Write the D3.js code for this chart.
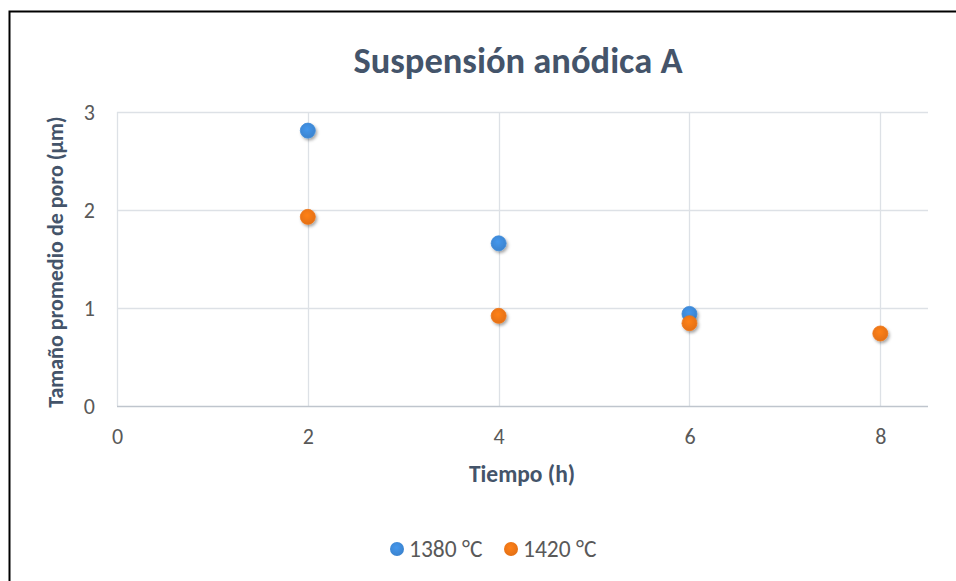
<!DOCTYPE html>
<html>
<head>
<meta charset="utf-8">
<script src="https://cdn.jsdelivr.net/npm/d3@7"></script>
<style>
  html, body { margin: 0; padding: 0; background: #fff; }
  svg { display: block; }
</style>
</head>
<body>
<svg id="chart" width="956" height="581"></svg>
<script>
// Mean pore size versus sintering time, one series per temperature
const xTicks = [0, 2, 4, 6, 8];
const yTicks = [0, 1, 2, 3];
const seriesNames = ["1380 °C", "1420 °C"];
const seriesColors = ["#3E8AD9", "#EF7616"];
const time1380 = [2, 4, 6];
const size1380 = [2.81, 1.66, 0.94];
const time1420 = [2, 4, 6, 8];
const size1420 = [1.93, 0.92, 0.845, 0.74];

const svg = d3.select("#chart");
const font = "Carlito, Calibri, Lato, 'Open Sans', sans-serif";
const textColor = "#44546A";
const tickColor = "#595959";

// Outer frame
svg.append("rect")
  .attr("x", 9.5).attr("y", 11.5)
  .attr("width", 960).attr("height", 600)
  .attr("fill", "none").attr("stroke", "#000").attr("stroke-width", 2);

const plot = { left: 117, right: 928, top: 112, bottom: 406 };
const x = d3.scaleLinear().domain([0, 8.5]).range([plot.left, plot.right]);
const y = d3.scaleLinear().domain([0, 3]).range([plot.bottom, plot.top]);

const defs = svg.append("defs");
const shadow = defs.append("filter").attr("id", "shadow")
  .attr("x", "-50%").attr("y", "-50%").attr("width", "220%").attr("height", "220%");
shadow.append("feDropShadow")
  .attr("dx", 1.5).attr("dy", 2).attr("stdDeviation", 1.8)
  .attr("flood-color", "#000").attr("flood-opacity", 0.35);

seriesColors.forEach((c, i) => {
  const g = defs.append("radialGradient").attr("id", "grad" + i)
    .attr("cx", "45%").attr("cy", "40%").attr("r", "60%");
  g.append("stop").attr("offset", "0%").attr("stop-color", d3.color(c).brighter(0.25));
  g.append("stop").attr("offset", "100%").attr("stop-color", d3.color(c).darker(0.15));
});

// Gridlines
const grid = svg.append("g");
grid.selectAll(".hg").data(yTicks.filter(d => d > 0)).join("line")
  .attr("x1", plot.left).attr("x2", plot.right)
  .attr("y1", d => y(d) + 0.5).attr("y2", d => y(d) + 0.5)
  .attr("stroke", "#DDE1E6").attr("stroke-width", 1.3);
grid.selectAll(".vg").data(xTicks).join("line")
  .attr("x1", d => Math.round(x(d)) + 0.5).attr("x2", d => Math.round(x(d)) + 0.5)
  .attr("y1", plot.top).attr("y2", plot.bottom)
  .attr("stroke", "#DDE1E6").attr("stroke-width", 1.3);

// X axis baseline
svg.append("line")
  .attr("x1", plot.left).attr("x2", plot.right)
  .attr("y1", y(0) + 0.5).attr("y2", y(0) + 0.5)
  .attr("stroke", "#BFC5CD").attr("stroke-width", 1.3);

// Tick labels via d3 axes with hidden lines
const xAxis = svg.append("g")
  .attr("transform", `translate(0,${y(0)})`)
  .call(d3.axisBottom(x).tickValues(xTicks).tickFormat(d3.format("d")).tickSize(0).tickPadding(22));
const yAxis = svg.append("g")
  .attr("transform", `translate(${plot.left},0)`)
  .call(d3.axisLeft(y).tickValues(yTicks).tickFormat(d3.format("d")).tickSize(0).tickPadding(22));
[xAxis, yAxis].forEach(a => {
  a.select(".domain").remove();
  a.selectAll("text").attr("font-family", font).attr("font-size", 22).attr("fill", tickColor);
});

// Title
svg.append("text")
  .attr("x", 518).attr("y", 73)
  .attr("text-anchor", "middle")
  .attr("font-family", font).attr("font-size", 36.5).attr("font-weight", "bold")
  .attr("fill", textColor)
  .text("Suspensión anódica A");

// Axis titles
svg.append("text")
  .attr("x", 522).attr("y", 482)
  .attr("text-anchor", "middle")
  .attr("font-family", font).attr("font-size", 23.5).attr("font-weight", "bold")
  .attr("fill", textColor)
  .text("Tiempo (h)");
svg.append("text")
  .attr("transform", "translate(63,262) rotate(-90)")
  .attr("text-anchor", "middle")
  .attr("font-family", font).attr("font-size", 22).attr("font-weight", "bold")
  .attr("fill", textColor)
  .text("Tamaño promedio de poro (µm)");

// Markers
const series = [
  { xs: time1380, ys: size1380 },
  { xs: time1420, ys: size1420 }
];
series.forEach((s, i) => {
  svg.append("g").selectAll("circle")
    .data(s.xs.map((t, k) => [t, s.ys[k]]))
    .join("circle")
    .attr("cx", d => x(d[0])).attr("cy", d => y(d[1]))
    .attr("r", 7.5)
    .attr("fill", `url(#grad${i})`)
    .attr("stroke", seriesColors[i]).attr("stroke-width", 0.8)
    .attr("filter", "url(#shadow)");
});

// Legend
const legend = svg.append("g");
const legendX = [397, 511];
seriesNames.forEach((name, i) => {
  legend.append("circle")
    .attr("cx", legendX[i]).attr("cy", 549).attr("r", 7)
    .attr("fill", `url(#grad${i})`);
  legend.append("text")
    .attr("x", legendX[i] + 12).attr("y", 557)
    .attr("font-family", font).attr("font-size", 23.5).attr("fill", tickColor)
    .text(name);
});
</script>
</body>
</html>
